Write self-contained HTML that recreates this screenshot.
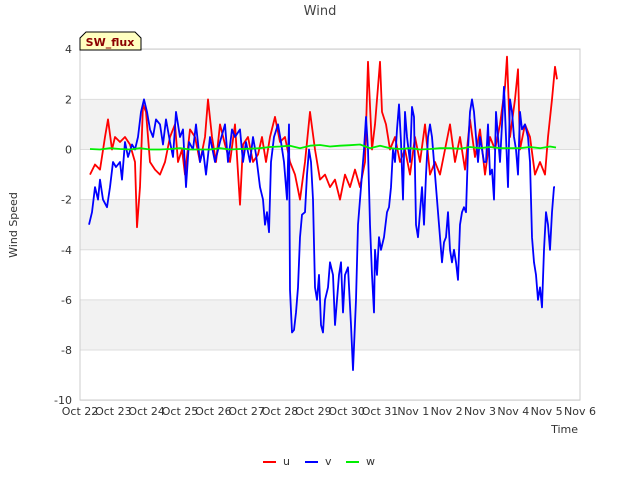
<!DOCTYPE html>
<html><head><meta charset="utf-8"><style>
body{margin:0;background:#fff;font-family:"Liberation Sans","DejaVu Sans",sans-serif}
svg text{font-family:"DejaVu Sans","Liberation Sans",sans-serif}
</style></head><body>
<svg id="chart" width="640" height="480" viewBox="0 0 640 480" xmlns="http://www.w3.org/2000/svg">
<rect x="0" y="0" width="640" height="480" fill="#fff"/>
<g id="bands"></g><g id="grid"></g>
<rect x="80" y="49" width="500" height="351" fill="none" stroke="#ccc"/>
<g id="series"></g><g id="axes"></g>
<text x="320" y="15" text-anchor="middle" font-size="13" fill="#444">Wind</text>
<text x="17" y="225" text-anchor="middle" font-size="11" fill="#333" transform="rotate(-90 17 225)">Wind Speed</text>
<text x="578" y="433" text-anchor="end" font-size="11" fill="#333">Time</text>
<g>
<path d="M80,50 L80,38 L86,32 L135,32 L141,38 L141,50 Z" fill="#ffffc0" stroke="#000"/>
<text x="110" y="46" text-anchor="middle" font-size="11" font-weight="bold" fill="#8b0000">SW_flux</text>
</g>
<g>
<g><line x1="263" y1="462" x2="276" y2="462" stroke="#f00" stroke-width="2"/><text x="283" y="465" font-size="11" fill="#333">u</text></g>
<g><line x1="305" y1="462" x2="318" y2="462" stroke="#00f" stroke-width="2"/><text x="325" y="465" font-size="11" fill="#333">v</text></g>
<g><line x1="346" y1="462" x2="359" y2="462" stroke="#0e0" stroke-width="2"/><text x="366" y="465" font-size="11" fill="#333">w</text></g>
</g>
</svg>
<script>
const xTickLabels=["Oct 22","Oct 23","Oct 24","Oct 25","Oct 26","Oct 27","Oct 28","Oct 29","Oct 30","Oct 31","Nov 1","Nov 2","Nov 3","Nov 4","Nov 5","Nov 6"];
const yTicks=[4,2,0,-2,-4,-6,-8,-10];
const uX=[90,95,100,105,108,112,115,120,125,130,135,137,140,143,146,150,155,160,165,170,175,178,182,185,190,195,200,205,208,212,216,220,225,230,235,240,243,248,253,258,262,266,270,275,280,285,290,295,300,305,310,315,320,325,330,335,340,345,350,355,360,365,368,372,375,380,382,386,390,395,400,405,410,415,420,425,430,435,440,445,450,455,460,465,470,475,480,485,490,495,500,505,507,510,515,518,520,525,530,535,540,545,548,552,555,557];
const uVals=[-1,-0.6,-0.8,0.5,1.2,0,0.5,0.3,0.5,0.2,-0.5,-3.1,-1.5,1.8,1.5,-0.5,-0.8,-1,-0.5,0.5,1,-0.5,0,-1,0.8,0.5,-0.5,0.5,2,0.5,-0.5,1,0.2,-0.5,1,-2.2,0.2,0.5,-0.5,-0.2,0.5,-0.5,0.5,1.3,0.3,0.5,-0.5,-1,-2,-0.5,1.5,0,-1.2,-1,-1.5,-1.2,-2,-1,-1.5,-0.8,-1.5,-0.5,3.5,0,1,3.5,1.5,1,0,0.5,-0.5,0,-1,0.5,-0.5,1,-1,-0.5,-1,0,1,-0.5,0.5,-0.8,1.2,-0.3,0.8,-1,0.5,0,1,2.5,3.7,0.5,2,3.2,0,1,0.5,-1,-0.5,-1,0.5,2,3.3,2.8];
const vX=[89,92,95,98,100,103,107,110,113,116,120,122,125,128,132,135,138,141,144,147,150,153,156,160,163,166,170,173,176,180,183,186,189,193,196,200,203,206,210,215,220,225,228,232,235,240,243,246,250,253,256,260,263,265,267,269,271,274,278,281,284,287,289,290,292,294,296,298,300,302,305,307,309,311,313,315,317,319,321,323,325,328,330,333,335,337,339,341,343,345,348,351,353,356,358,361,364,366,368,370,372,374,375,377,379,381,384,387,389,391,393,395,397,399,401,403,405,407,410,412,414,416,418,420,422,424,426,428,430,432,434,436,438,440,442,444,446,448,450,452,454,456,458,460,462,464,466,468,470,472,474,476,478,480,482,484,486,488,490,492,494,496,498,500,502,504,506,508,510,512,514,516,518,520,522,525,528,530,532,534,536,538,540,542,544,546,548,550,552,554,555];
const vVals=[-3,-2.5,-1.5,-2,-1.2,-2,-2.3,-1.5,-0.5,-0.7,-0.5,-1.2,0.3,-0.3,0.2,0,0.5,1.5,2,1.5,0.8,0.5,1.2,1,0.2,1.2,0.3,-0.3,1.5,0.5,0.8,-1.5,0.3,0,1,-0.5,0,-1,0.5,-0.5,0.3,1,-0.5,0.8,0.5,0.8,-0.5,0.3,-0.5,0.5,-0.2,-1.5,-2,-3,-2.5,-3.3,-0.5,0.5,1,0.3,-0.5,-2,1,-5.6,-7.3,-7.2,-6.5,-5.5,-3.5,-2.6,-2.5,-1,0,-0.5,-2,-5.5,-6,-5,-7,-7.3,-6,-5.5,-4.5,-5,-7,-6,-5,-4.5,-6.5,-5,-4.7,-7,-8.8,-6,-3,-1.5,0,1.3,0,-3,-5,-6.5,-4,-5,-3.5,-4,-3.5,-2.5,-2.3,-1.5,0,-0.5,0.8,1.8,0.3,-2,1.5,0.5,-0.5,1.7,1.3,-3,-3.5,-2.5,-1.5,-3,-1,0.5,1,0.5,-0.5,-1.5,-2.5,-3.5,-4.5,-3.7,-3.5,-2.5,-4,-4.5,-4,-4.5,-5.2,-3,-2.5,-2.3,-2.5,0,1.5,2,1.5,0.5,-0.5,0.5,0,-0.5,-0.5,1,-1,-0.8,-2,1.5,0.5,-0.5,1,2.5,0.5,-1.5,2,1.5,0.5,0,-1,1.5,0.8,1,0.5,-0.5,-3.5,-4.5,-5,-6,-5.5,-6.3,-4,-2.5,-3,-4,-2.5,-1.5,-1.5];
const wX=[90,100,110,120,130,140,150,160,170,180,190,200,210,220,230,240,250,260,270,280,290,300,310,320,330,340,350,360,370,380,390,400,410,420,430,440,450,460,470,480,490,500,510,520,530,540,550,556];
const wVals=[0.02,0,0.05,0.02,0,0.05,0,0,0.02,0.05,0,0,0,0.05,0,0.02,0.03,0.05,0.1,0.12,0.15,0.05,0.15,0.18,0.12,0.15,0.17,0.2,0.05,0.15,0.05,0.02,0.05,0,0.02,0.05,0.05,0.03,0.1,0.05,0.1,0.05,0.05,0.05,0.1,0.05,0.12,0.08];
const X0=80,X1=580,Y0=149.5,PU=25.07;
const xs=d=>X0+d*(X1-X0)/15;
const ys=v=>Y0-v*PU;
const toDay=p=>(p-X0)*15/(X1-X0);
const NS="http://www.w3.org/2000/svg";
const bands=document.getElementById('bands'),grid=document.getElementById('grid'),axes=document.getElementById('axes'),ser=document.getElementById('series');
[[2,0],[-2,-4],[-6,-8]].forEach(b=>{const r=document.createElementNS(NS,'rect');r.setAttribute('x',80);r.setAttribute('width',500);r.setAttribute('y',ys(b[0]));r.setAttribute('height',ys(b[1])-ys(b[0]));r.setAttribute('fill','#f2f2f2');

bands.appendChild(r);});
yTicks.forEach(v=>{const l=document.createElementNS(NS,'line');l.setAttribute('x1',80);l.setAttribute('x2',580);l.setAttribute('y1',ys(v));l.setAttribute('y2',ys(v));l.setAttribute('stroke','#ddd');

grid.appendChild(l);
const t=document.createElementNS(NS,'text');t.setAttribute('x',72);t.setAttribute('y',ys(v)+4);t.setAttribute('text-anchor','end');t.setAttribute('font-size','11');t.setAttribute('fill','#333');t.textContent=v;

axes.appendChild(t);});
xTickLabels.forEach((s,i)=>{const t=document.createElementNS(NS,'text');t.setAttribute('x',xs(i));t.setAttribute('y',415);t.setAttribute('text-anchor','middle');t.setAttribute('font-size','11');t.setAttribute('fill','#333');t.textContent=s;

axes.appendChild(t);});
function line(px,vals,color,name){const p=document.createElementNS(NS,'polyline');p.setAttribute('points',px.map((x,i)=>xs(toDay(x)).toFixed(1)+','+ys(vals[i]).toFixed(1)).join(' '));p.setAttribute('fill','none');p.setAttribute('stroke',color);p.setAttribute('stroke-width','1.8');p.setAttribute('stroke-linejoin','round');

ser.appendChild(p);}
line(uX,uVals,'#ff0000','series-u');
line(vX,vVals,'#0000ff','series-v');
line(wX,wVals,'#00ee00','series-w');
</script>
</body></html>
